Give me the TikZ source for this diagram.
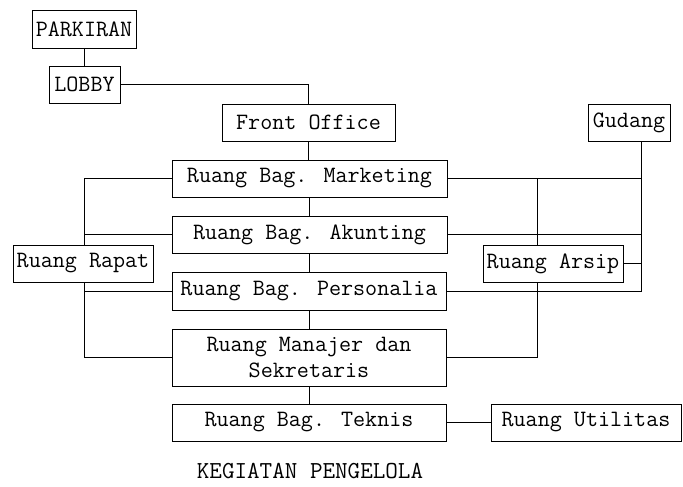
\documentclass[tikz,border=0pt]{standalone}
\usepackage{fontspec}
\usetikzlibrary{backgrounds}
\tikzset{
  room/.style={draw, line width=0.9pt, fill=white, inner sep=0pt, align=center,
    font=\ttfamily\fontsize{23.4}{26}\selectfont},
  link/.style={line width=0.9pt}
}
\begin{document}
\begin{tikzpicture}[x=1pt,y=-1pt]
\useasboundingbox (0,0) rectangle (683,487);
\node[room, minimum width=104pt, minimum height=38pt] (park) at (84,29) {PARKIRAN};
\node[room, minimum width=71pt, minimum height=37pt] (lobby) at (84.5,84.5) {LOBBY};
\node[room, minimum width=173pt, minimum height=37pt] (fo) at (308.5,122.5) {Front Office};
\node[room, minimum width=82pt, minimum height=37pt] (gud) at (629,122.5) {Gudang};
\node[room, minimum width=275pt, minimum height=37pt] (mkt) at (309.5,178.5) {Ruang Bag. Marketing};
\node[room, minimum width=275pt, minimum height=37pt] (akt) at (309.5,234.5) {Ruang Bag. Akunting};
\node[room, minimum width=140pt, minimum height=37pt] (rapat) at (83,263.5) {Ruang Rapat};
\node[room, minimum width=274pt, minimum height=38pt] (pers) at (309,291) {Ruang Bag. Personalia};
\node[room, minimum width=140pt, minimum height=37pt] (arsip) at (553,263.5) {Ruang Arsip};
\node[room, minimum width=274pt, minimum height=57pt] (man) at (309,357.5) {Ruang Manajer dan\\Sekretaris};
\node[room, minimum width=274pt, minimum height=37pt] (tek) at (309,422.5) {Ruang Bag. Teknis};
\node[room, minimum width=190pt, minimum height=37pt] (util) at (586,422.5) {Ruang Utilitas};
\node[font=\ttfamily\fontsize{24.4}{28}\selectfont] (title) at (310,471) {KEGIATAN PENGELOLA};
\coordinate (ltop) at (84,178.5);
\coordinate (rtop) at (537,178.5);
\coordinate (gx) at (641,178.5);
\coordinate (gtop) at (641,141);
\begin{scope}[on background layer]
\draw[link] (park.south) -- (park.south |- lobby.north);
\draw[link] (lobby.east) -| (fo.north);
\draw[link] (fo.south) -- (fo.south |- mkt.north);
\draw[link] (mkt.south) -- (mkt.south |- akt.north);
\draw[link] (akt.south) -- (akt.south |- pers.north);
\draw[link] (pers.south) -- (pers.south |- man.north);
\draw[link] (man.south) -- (man.south |- tek.north);
\draw[link] (mkt.west) -- (ltop) |- (man.west);
\draw[link] (akt.west) -- (ltop |- akt.west);
\draw[link] (pers.west) -- (ltop |- pers.west);
\draw[link] (mkt.east) -- (gx);
\draw[link] (rtop) |- (man.east);
\draw[link] (gtop) |- (pers.east);
\draw[link] (akt.east) -- (gx |- akt.east);
\draw[link] (arsip.east) -- (gx |- arsip.east);
\draw[link] (tek.east) -- (util.west);
\end{scope}
\end{tikzpicture}
\end{document}
